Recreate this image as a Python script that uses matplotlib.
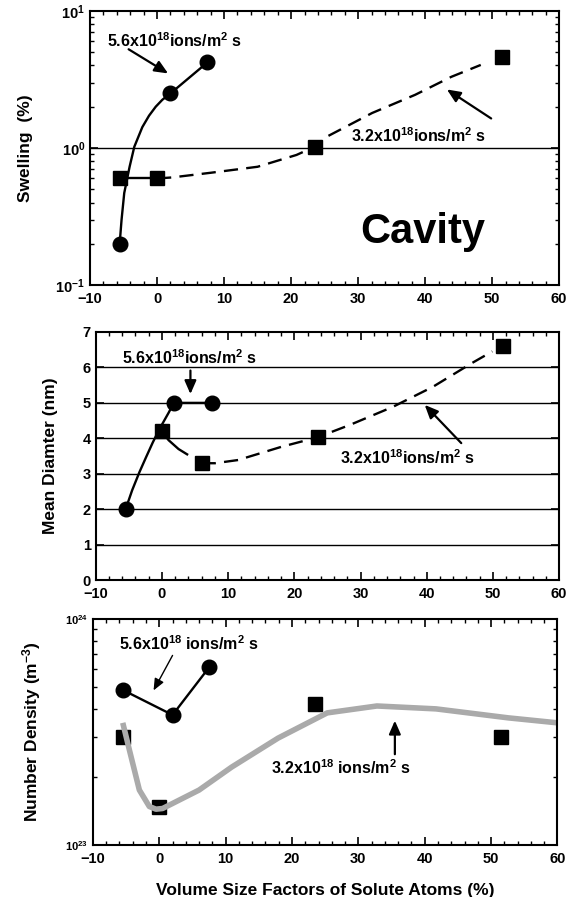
import matplotlib
matplotlib.use("Agg")
import matplotlib.pyplot as plt
from matplotlib.ticker import NullFormatter
import numpy as np

plt.rcParams["font.family"] = ["Liberation Sans", "DejaVu Sans"]
plt.rcParams["font.weight"] = "bold"
plt.rcParams["mathtext.fontset"] = "custom"
plt.rcParams["mathtext.rm"] = "Liberation Sans:bold"
plt.rcParams["mathtext.bf"] = "Liberation Sans:bold"
plt.rcParams["mathtext.it"] = "Liberation Sans:bold"
plt.rcParams["mathtext.default"] = "rm"

# ---- data ----
# swelling (%)
sw_hi_x = [-5.5, 2.0, 7.5]
sw_hi_y = [0.2, 2.5, 4.2]
sw_hi_fit_x = [-5.6, -5.3, -4.9, -4.1, -3.4, -2.2, -1.2, -0.2, 0.8, 1.75, 7.5]
sw_hi_fit_y = [0.196, 0.3, 0.47, 0.73, 1.02, 1.42, 1.72, 2.0, 2.25, 2.44, 4.2]
sw_lo_x = [-5.5, 0.0, 23.5, 51.5]
sw_lo_y = [0.6, 0.6, 1.02, 4.6]
sw_lo_fit_x = [0.0, 2.2, 8.0, 15.0, 20.8, 23.5, 25.2, 32.1, 38.5, 43.9, 48.3]
sw_lo_fit_y = [0.6, 0.61, 0.66, 0.73, 0.89, 1.02, 1.2, 1.8, 2.44, 3.3, 4.03]

# mean diameter (nm)
md_hi_x = [-5.5, 1.8, 7.5]
md_hi_y = [2.0, 5.0, 5.0]
md_hi_fit_x = [-5.5, -4.5, -3.4, -2.4, -1.4, -0.45, 1.0, 1.8, 7.5]
md_hi_fit_y = [2.0, 2.54, 3.05, 3.47, 3.88, 4.24, 4.72, 5.0, 5.0]
md_lo_x = [0.0, 6.0, 23.5, 51.5]
md_lo_y = [4.2, 3.3, 4.03, 6.6]
md_lo_solid_x = [0.0, 1.0, 2.5, 3.8]
md_lo_solid_y = [4.2, 3.95, 3.7, 3.55]
md_lo_fit_x = [6.0, 8.0, 11.5, 18.0, 23.5, 28.4, 34.9, 40.9, 46.9, 49.9]
md_lo_fit_y = [3.3, 3.3, 3.39, 3.76, 4.03, 4.38, 4.89, 5.45, 6.13, 6.45]

# number density (m^-3)
nd_hi_x = [-5.5, 2.0, 7.5]
nd_hi_y = [4.85e23, 3.76e23, 6.1e23]
nd_lo_x = [-5.5, 0.0, 23.5, 51.5]
nd_lo_y = [3.0e23, 1.47e23, 4.2e23, 3.0e23]
nd_fit_x = [-5.5, -4.5, -3.0, -1.5, -0.5, 0.5, 6.0, 10.9, 17.9, 25.3, 32.8, 41.7, 52.6, 60.0]
nd_fit_y = [3.47e23, 2.63e23, 1.75e23, 1.48e23, 1.44e23, 1.45e23, 1.75e23, 2.21e23,
            2.97e23, 3.84e23, 4.12e23, 4.0e23, 3.65e23, 3.47e23]

hi_label = r"5.6x10$^{18}$ions/m$^{2}$ s"
lo_label = r"3.2x10$^{18}$ions/m$^{2}$ s"

fig = plt.figure(figsize=(5.7, 8.97), dpi=100)
ax1 = fig.add_axes([0.158, 0.682, 0.823, 0.306])
ax2 = fig.add_axes([0.168, 0.353, 0.813, 0.277])
ax3 = fig.add_axes([0.163, 0.058, 0.815, 0.252])

dash = (0, (6, 3.5))
arrow = dict(arrowstyle="-|>,head_width=0.35,head_length=0.8", color="black", lw=1.6)


def style_axis(ax):
    ax.set_xlim(-10, 60)
    ax.set_xticks(np.arange(-10, 61, 10))
    ax.set_xticks(np.arange(-10, 61, 2), minor=True)
    ax.tick_params(which="both", direction="in", top=True, right=True, labelsize=10.5)
    ax.tick_params(axis="x", pad=5)
    ax.tick_params(which="major", length=6, width=1.2)
    ax.tick_params(which="minor", length=3, width=1)
    for sp in ax.spines.values():
        sp.set_linewidth(1.5)
    for lab in ax.get_xticklabels() + ax.get_yticklabels():
        lab.set_fontweight("bold")


# ---- swelling ----
ax1.set_yscale("log")
ax1.set_ylim(0.1, 10)
ax1.yaxis.set_minor_formatter(NullFormatter())
ax1.axhline(1.0, color="black", lw=1)
ax1.plot(sw_hi_fit_x, sw_hi_fit_y, color="black", lw=1.7)
ax1.plot(sw_hi_x, sw_hi_y, "o", color="black", ms=10.5)
ax1.plot(sw_lo_x[:2], sw_lo_y[:2], color="black", lw=1.7)
ax1.plot(sw_lo_fit_x, sw_lo_fit_y, color="black", lw=1.7, ls=dash)
ax1.plot(sw_lo_x, sw_lo_y, "s", color="black", ms=10.5)
ax1.annotate("", xy=(2.0, 3.41), xytext=(-4.6, 5.37), arrowprops=arrow)
ax1.text(-7.5, 6.1, hi_label, fontsize=11.5, fontweight="bold", va="center")
ax1.annotate("", xy=(42.9, 2.74), xytext=(50.2, 1.6), arrowprops=arrow)
ax1.text(28.9, 1.24, lo_label, fontsize=11.5, fontweight="bold", va="center")
ax1.text(39.6, 0.244, "Cavity", fontsize=30, fontweight="bold", ha="center", va="center")
ax1.set_ylabel("Swelling  (%)", fontsize=12.5, fontweight="bold", labelpad=16)
style_axis(ax1)

# ---- mean diameter ----
ax2.set_ylim(0, 7)
ax2.set_yticks(range(0, 8))
for g in range(1, 7):
    ax2.axhline(g, color="black", lw=1)
ax2.plot(md_hi_fit_x, md_hi_fit_y, color="black", lw=1.7)
ax2.plot(md_hi_x, md_hi_y, "o", color="black", ms=10.5)
ax2.plot(md_lo_solid_x, md_lo_solid_y, color="black", lw=1.7)
ax2.plot(md_lo_fit_x, md_lo_fit_y, color="black", lw=1.7, ls=dash)
ax2.plot(md_lo_x, md_lo_y, "s", color="black", ms=10.5)
ax2.annotate("", xy=(4.3, 5.17), xytext=(4.3, 5.99), arrowprops=arrow)
ax2.text(-6.0, 6.27, hi_label, fontsize=11.5, fontweight="bold", va="center")
ax2.annotate("", xy=(39.4, 5.0), xytext=(45.5, 3.81), arrowprops=arrow)
ax2.text(26.9, 3.47, lo_label, fontsize=11.5, fontweight="bold", va="center")
ax2.set_ylabel("Mean Diamter (nm)", fontsize=12.5, fontweight="bold", labelpad=18)
style_axis(ax2)

# ---- number density ----
ax3.set_yscale("log")
ax3.set_ylim(1e23, 1e24)
ax3.yaxis.set_minor_formatter(NullFormatter())
ax3.plot(nd_fit_x, nd_fit_y, color="#aaaaaa", lw=4, solid_capstyle="butt", zorder=2)
ax3.plot(nd_hi_x, nd_hi_y, "o-", color="black", ms=10.5, lw=1.7, zorder=3)
ax3.plot(nd_lo_x, nd_lo_y, "s", color="black", ms=10.5, zorder=1)
ax3.annotate("", xy=(-1.06, 4.71e23), xytext=(2.2, 7.07e23),
             arrowprops=dict(arrowstyle="-|>,head_width=0.3,head_length=0.7", color="black", lw=1))
ax3.text(-6.0, 7.8e23, hi_label.replace("ions", " ions"), fontsize=11.5, fontweight="bold", va="center")
ax3.annotate("", xy=(35.5, 3.65e23), xytext=(35.5, 2.45e23), arrowprops=arrow)
ax3.text(16.8, 2.19e23, lo_label.replace("ions", " ions"), fontsize=11.5, fontweight="bold", va="center")
ax3.set_ylabel("Number Density (m$^{-3}$)", fontsize=12.5, fontweight="bold", labelpad=16)
ax3.set_xlabel("Volume Size Factors of Solute Atoms (%)", fontsize=12.5, fontweight="bold", labelpad=12)
style_axis(ax3)
ax3.tick_params(axis="y", which="major", labelsize=8)

fig.savefig("out.png", dpi=100)
